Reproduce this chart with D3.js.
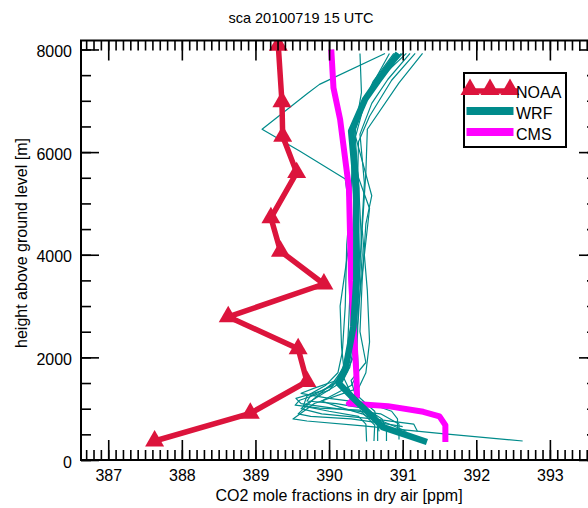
<!DOCTYPE html>
<html><head><meta charset="utf-8">
<script src="https://cdn.jsdelivr.net/npm/d3@7"></script>
<style>
body{margin:0;background:#fff}
svg{display:block}
text{font-family:"Liberation Sans",Arial,Helvetica,sans-serif;fill:#000}
</style>
</head><body>
<svg id="c" width="588" height="508"></svg>
<script>
// ---------- data ----------
const title = "sca 20100719 15 UTC";
const xLabel = "CO2 mole fractions in dry air [ppm]";
const yLabel = "height above ground level [m]";
const xTicks = [387, 388, 389, 390, 391, 392, 393];
const yTicks = [0, 2000, 4000, 6000, 8000];
const seriesNames = ["NOAA", "WRF", "CMS"];

// NOAA aircraft profile
const noaaCO2    = [389.31, 389.36, 389.37, 389.56, 389.21, 389.34, 389.93, 388.63, 389.58, 389.70, 388.93, 387.63];
const noaaHeight = [8080,   6980,   6310,   5600,   4720,   4070,   3430,   2790,   2170,   1530,   910,    370];

// CMS profile
const cmsCO2    = [390.03, 390.06, 390.15, 390.27, 390.30, 390.37, 390.38, 390.27, 390.80, 391.28, 391.50, 391.58, 391.58];
const cmsHeight = [8000,   7250,   6640,   5300,   3500,   1700,   1250,   1100,   1050,   940,    850,    680,    350];

// WRF ensemble mean
const wrfCO2    = [390.94, 390.66, 390.49, 390.30, 390.37, 390.37, 390.33, 390.22, 390.13, 390.33, 390.54, 390.73, 391.33];
const wrfHeight = [7923,   7380,   7030,   6409,   5302,   3496,   2600,   1748,   1495,   1204,   913,    641,    350];

// WRF ensemble members [co2, height]
const wrfMembers = [
  [[390.76,7923],[389.87,7320],[389.71,7146],[389.09,6446],[389.60,6020],[390.22,5476],[390.31,4466],[390.28,3107],[390.25,2136],[390.19,1709],[390.00,1359],[389.60,1165],[389.54,1068],[389.87,1010],[390.42,971],[390.62,680],[390.61,370]],
  [[390.42,7923],[390.44,7160],[390.35,6409],[390.40,5400],[390.45,4000],[390.40,2800],[390.33,2000],[390.20,1600],[389.90,1350],[389.55,1200],[389.62,1100],[390.10,1000],[390.70,900],[390.95,700],[390.95,400]],
  [[391.27,7923],[390.95,7350],[390.52,6446],[390.50,5600],[390.45,4500],[390.52,3300],[390.55,2300],[390.50,1700],[390.40,1400],[389.80,1100],[389.51,800],[389.70,760],[390.50,660],[391.50,520],[392.63,370]],
  [[391.17,7923],[390.85,7400],[390.55,6700],[390.40,6200],[390.38,5000],[390.42,3800],[390.36,2500],[390.25,1800],[390.05,1450],[389.75,1250],[389.70,1150],[390.10,1100],[390.50,1000],[390.72,800],[390.78,600],[390.78,370]],
  [[391.05,7923],[390.70,7450],[390.40,6800],[390.30,6100],[390.34,5000],[390.30,3800],[390.30,2600],[390.22,1900],[390.10,1550],[389.80,1400],[389.62,1300],[390.00,1200],[390.55,1100],[390.85,950],[390.93,800],[390.93,560]],
  [[390.98,7923],[390.75,7500],[390.52,7050],[390.30,6450],[390.37,5300],[390.36,3900],[390.32,2700],[390.27,2000],[390.20,1600],[390.30,1300],[390.45,1000],[390.65,800],[391.05,560]],
  [[391.10,7923],[390.80,7420],[390.58,6950],[390.42,6350],[390.48,5400],[390.44,4400],[390.40,3200],[390.35,2300],[390.28,1800],[390.15,1500],[389.70,1100],[389.62,1000],[389.90,900],[390.60,800],[391.15,700],[391.20,560]],
  [[390.88,7923],[390.60,7380],[390.45,6900],[390.33,6500],[390.30,5200],[390.24,4200],[390.22,3000],[390.18,2100],[390.12,1700],[389.95,1450],[389.70,1250],[389.65,1050],[390.00,950],[390.40,850],[390.50,700],[390.51,360]],
  [[391.00,7923],[390.68,7420],[390.48,6950],[390.36,6300],[390.58,5150],[390.50,4600],[390.45,3500],[390.42,2500],[390.50,1900],[390.30,1550],[390.35,1300],[390.50,1100],[390.62,950],[390.66,700],[390.66,370]],
  [[390.93,7923],[390.72,7450],[390.50,7000],[390.36,6450],[390.32,5600],[390.28,4300],[390.15,3000],[390.17,2200],[390.20,1800],[390.05,1500],[389.80,1200],[389.58,900],[389.75,850],[390.30,800],[390.80,700],[391.00,650]],
  [[390.82,7923],[390.62,7400],[390.42,6850],[390.30,6350],[390.40,5500],[390.55,4900],[390.48,4000],[390.40,3000],[390.38,2200],[390.40,1700],[390.30,1450],[390.10,1300],[389.90,1150],[390.10,1050],[390.45,900],[390.65,750],[390.68,560]]
];

// ---------- layout ----------
const L = 81, R = 597, T = 40.5, B = 460;
const colNOAA = "#dc143c", colWRF = "#008b8b", colCMS = "#ff00ff";

const svg = d3.select("#c");
const x = d3.scaleLinear().domain([386.63, 393.64]).range([L, R]);
const y = d3.scaleLinear().domain([0, 8175]).range([B, T]);

svg.append("defs").append("clipPath").attr("id", "clip")
  .append("rect").attr("x", L).attr("y", T).attr("width", R - L).attr("height", B - T);

const plot = svg.append("g").attr("clip-path", "url(#clip)");
const line = d3.line().x(d => x(d[0])).y(d => y(d[1]));

const zip = (a, b) => a.map((v, i) => [v, b[i]]);

// thin WRF members
plot.selectAll(".mem").data(wrfMembers).enter().append("path")
  .attr("d", line).attr("fill", "none").attr("stroke", colWRF)
  .attr("stroke-width", 1.2).attr("stroke-linejoin", "round");

// CMS
plot.append("path").attr("d", line(zip(cmsCO2, cmsHeight)))
  .attr("fill", "none").attr("stroke", colCMS).attr("stroke-width", 6)
  .attr("stroke-linejoin", "round");

// WRF mean
plot.append("path").attr("d", line(zip(wrfCO2, wrfHeight)))
  .attr("fill", "none").attr("stroke", colWRF).attr("stroke-width", 6.5)
  .attr("stroke-linejoin", "round");

// NOAA
const noaa = zip(noaaCO2, noaaHeight);
plot.append("path").attr("d", line(noaa))
  .attr("fill", "none").attr("stroke", colNOAA).attr("stroke-width", 5.5)
  .attr("stroke-linejoin", "round");
const tri = d3.symbol().type(d3.symbolTriangle).size(156);
plot.selectAll(".tri").data(noaa).enter().append("path")
  .attr("d", tri).attr("fill", colNOAA)
  .attr("transform", d => `translate(${x(d[0])},${y(d[1])})`);

// ---------- axes ----------
const xMinor = d3.range(3867, 3937).map(d => d / 10);
const yMinor = d3.range(0, 8001, 500);

function styleAxis(g) {
  g.select(".domain").remove();
  g.selectAll(".tick line").attr("stroke", "#000").attr("stroke-width", 1.6);
  g.selectAll(".tick text").attr("font-size", 16).attr("fill", "#000")
    .style("font-family", '"Liberation Sans",Arial,sans-serif');
}

svg.append("g").attr("transform", `translate(0,${B})`)
  .call(d3.axisBottom(x).tickValues(xMinor).tickSize(-10).tickFormat("")).call(styleAxis);
svg.append("g").attr("transform", `translate(0,${B})`)
  .call(d3.axisBottom(x).tickValues(xTicks).tickSize(-20).tickPadding(10).tickFormat(d3.format("d"))).call(styleAxis);
svg.append("g").attr("transform", `translate(0,${T})`)
  .call(d3.axisTop(x).tickValues(xMinor).tickSize(-10).tickFormat("")).call(styleAxis);
svg.append("g").attr("transform", `translate(0,${T})`)
  .call(d3.axisTop(x).tickValues(xTicks).tickSize(-20).tickFormat("")).call(styleAxis);

svg.append("g").attr("transform", `translate(${L},0)`)
  .call(d3.axisLeft(y).tickValues(yMinor).tickSize(-10).tickFormat("")).call(styleAxis);
const gl = svg.append("g").attr("transform", `translate(${L},0)`)
  .call(d3.axisLeft(y).tickValues(yTicks).tickSize(-18).tickPadding(9).tickFormat(d3.format("d"))).call(styleAxis);
gl.selectAll(".tick text").attr("dy", "0.45em");
svg.append("g").attr("transform", `translate(${R},0)`)
  .call(d3.axisRight(y).tickValues(yMinor).tickSize(-10).tickFormat("")).call(styleAxis);
svg.append("g").attr("transform", `translate(${R},0)`)
  .call(d3.axisRight(y).tickValues(yTicks).tickSize(-18).tickFormat("")).call(styleAxis);

// frame
svg.append("rect").attr("x", L).attr("y", T).attr("width", R - L).attr("height", B - T)
  .attr("fill", "none").attr("stroke", "#000").attr("stroke-width", 2);

// ---------- titles ----------
svg.append("text").attr("x", 301).attr("y", 23).attr("text-anchor", "middle")
  .attr("font-size", 14.5).text(title);
svg.append("text").attr("x", (L + R) / 2).attr("y", 501).attr("text-anchor", "middle")
  .attr("font-size", 16).text(xLabel);
svg.append("text").attr("transform", "translate(27,243) rotate(-90)").attr("text-anchor", "middle")
  .attr("font-size", 16).text(yLabel);

// ---------- legend ----------
const lg = svg.append("g");
lg.append("rect").attr("x", 464).attr("y", 73).attr("width", 102).attr("height", 74)
  .attr("fill", "#fff").attr("stroke", "#000").attr("stroke-width", 2);
lg.append("line").attr("x1", 463).attr("x2", 518).attr("y1", 91).attr("y2", 91)
  .attr("stroke", colNOAA).attr("stroke-width", 5.5);
[470, 490, 510].forEach(cx => {
  lg.append("path").attr("d", tri).attr("fill", colNOAA).attr("transform", `translate(${cx},89.5)`);
});
lg.append("line").attr("x1", 466.5).attr("x2", 513.5).attr("y1", 111).attr("y2", 111)
  .attr("stroke", colWRF).attr("stroke-width", 8);
lg.append("line").attr("x1", 466.5).attr("x2", 513.5).attr("y1", 132).attr("y2", 132)
  .attr("stroke", colCMS).attr("stroke-width", 8);
const ly = [98, 119, 140];
seriesNames.forEach((n, i) => {
  lg.append("text").attr("x", 516).attr("y", ly[i]).attr("font-size", 16).text(n);
});
</script>
</body></html>
